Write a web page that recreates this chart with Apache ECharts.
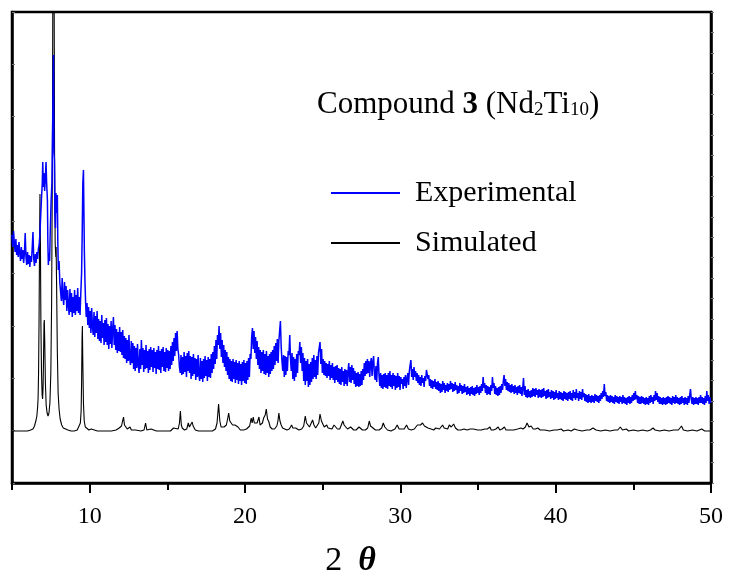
<!DOCTYPE html>
<html>
<head>
<meta charset="utf-8">
<script src="https://cdn.jsdelivr.net/npm/echarts@6/dist/echarts.min.js"></script>
<style>html,body{margin:0;padding:0;background:#fff}#c{width:732px;height:578px}</style>
</head>
<body>
<div id="c"></div>
<script>
// 2θ (degrees) and intensity (a.u.)
const experimental = [
[5.00,248],[5.05,236],[5.10,252],[5.15,240],[5.20,231],[5.25,244],[5.30,228],[5.35,238],[5.40,226],[5.45,241],[5.50,230],[5.55,222],[5.60,236],[5.65,224],[5.70,233],[5.75,220],[5.80,230],[5.85,250],[5.90,226],[5.95,218],[6.00,231],[6.05,219],[6.10,228],[6.15,216],[6.20,227],[6.25,221],[6.30,235],[6.35,251],[6.40,224],[6.45,217],[6.50,229],[6.55,220],[6.60,231],[6.65,224],[6.70,234],
[6.75,238],[6.80,250],[6.85,268],[6.90,285],[6.95,300],[6.98,321],[7.02,296],[7.06,310],[7.10,292],[7.15,305],[7.19,321],[7.23,300],[7.28,283],[7.31,240],[7.34,218],[7.38,230],[7.42,222],[7.46,250],[7.52,283],[7.57,300],[7.62,360],[7.67,428],[7.70,330],[7.73,323],[7.76,270],[7.80,255],[7.83,290],[7.87,270],[7.92,288],[7.95,240],[7.98,213],[8.03,222],[8.08,200],
[8.13,200],[8.18,182],[8.23,205],[8.28,186],[8.33,178],[8.38,201],[8.43,183],[8.48,197],[8.53,172],[8.58,193],[8.63,178],[8.68,168],[8.73,194],[8.78,171],[8.83,190],[8.88,166],[8.93,186],[8.98,170],[9.03,193],[9.08,168],[9.13,188],[9.18,172],[9.23,195],[9.28,170],[9.33,186],[9.38,168],[9.43,190],[9.48,210],[9.52,250],[9.56,300],[9.60,313],[9.63,270],[9.66,230],[9.70,200],[9.74,180],[9.78,166],
[9.83,180],[9.88,158],[9.93,176],[9.98,155],[10.03,172],[10.08,150],[10.13,175],[10.18,156],[10.23,148],[10.28,171],[10.33,146],[10.38,167],[10.43,150],[10.48,172],[10.53,144],[10.58,164],[10.63,142],[10.68,162],[10.73,140],[10.78,168],[10.83,145],[10.88,160],[10.93,138],[10.98,163],[11.03,141],[11.08,165],[11.13,138],[11.18,159],[11.23,134],[11.28,157],[11.33,139],[11.38,162],[11.43,135],[11.48,154],[11.53,166],[11.58,138],[11.63,158],[11.68,133],[11.73,154],[11.78,130],[11.83,151],[11.88,132],[11.93,156],[11.98,131],
[12.03,151],[12.08,128],[12.13,153],[12.18,125],[12.23,147],[12.28,124],[12.33,145],[12.38,120],[12.43,143],[12.48,122],[12.53,148],[12.58,124],[12.63,118],[12.68,142],[12.73,120],[12.78,140],[12.83,114],[12.88,137],[12.93,112],[12.98,135],[13.03,115],[13.08,139],[13.13,118],[13.18,110],[13.23,134],[13.28,114],[13.33,143],[13.38,118],[13.43,135],[13.48,111],[13.53,133],[13.58,114],[13.63,138],[13.68,115],[13.73,132],[13.78,110],[13.83,134],[13.88,113],[13.93,136],[13.98,116],[14.03,133],[14.08,111],[14.13,135],[14.18,115],[14.23,131],[14.28,109],[14.33,133],[14.38,114],[14.43,137],[14.48,113],[14.53,132],[14.58,110],[14.63,134],[14.68,116],[14.73,136],[14.78,112],[14.83,131],[14.88,111],[14.93,135],[14.98,115],[15.03,133],[15.08,112],[15.13,132],[15.18,114],[15.23,137],[15.28,118],[15.33,141],[15.38,122],[15.43,145],[15.48,127],[15.53,150],[15.58,132],[15.63,152],[15.68,134],[15.73,128],[15.78,116],[15.83,110],
[15.88,128],[15.93,108],[15.98,126],[16.03,109],[16.08,131],[16.13,111],[16.18,127],[16.23,106],[16.28,130],[16.33,112],[16.38,132],[16.43,110],[16.48,127],[16.53,104],[16.58,126],[16.63,107],[16.68,129],[16.73,109],[16.78,125],[16.83,103],[16.88,124],[16.93,106],[16.98,128],[17.03,108],[17.08,102],[17.13,125],[17.18,104],[17.23,122],[17.28,101],[17.33,124],[17.38,105],[17.43,127],[17.48,107],[17.53,123],[17.58,102],[17.63,126],[17.68,106],[17.73,124],[17.78,105],[17.83,129],[17.88,110],[17.93,131],[17.98,114],[18.03,137],[18.08,119],[18.13,143],[18.18,124],[18.23,148],[18.28,138],[18.33,157],[18.38,134],[18.43,150],[18.48,126],[18.53,143],[18.58,120],[18.63,138],[18.68,116],[18.73,133],[18.78,112],[18.83,131],[18.88,108],
[18.93,126],[18.98,104],[19.03,124],[19.08,102],[19.13,122],[19.18,101],[19.23,124],[19.28,104],[19.33,121],[19.38,100],[19.43,123],[19.48,103],[19.53,120],[19.58,99],[19.63,122],[19.68,102],[19.73,119],[19.78,98],[19.83,121],[19.88,102],[19.93,123],[19.98,100],[20.03,120],[20.08,99],[20.13,122],[20.18,103],[20.23,125],[20.28,106],[20.33,129],[20.38,124],[20.43,146],[20.48,155],[20.53,134],[20.58,152],[20.63,130],[20.68,146],[20.73,124],[20.78,142],[20.83,118],[20.88,136],[20.93,114],[20.98,133],[21.03,110],[21.08,131],[21.13,112],[21.18,133],[21.23,109],[21.28,129],[21.33,108],[21.38,132],[21.43,110],[21.48,127],[21.53,106],[21.58,129],[21.63,109],[21.68,131],[21.73,112],[21.78,133],[21.83,114],[21.88,137],[21.93,118],[21.98,140],[22.03,122],[22.08,144],[22.13,120],[22.18,142],[22.23,152],[22.28,162],[22.33,136],[22.38,122],[22.43,112],[22.48,128],[22.53,106],[22.58,127],[22.63,108],[22.68,126],[22.73,112],[22.78,132],[22.83,128],[22.88,148],[22.93,124],[22.98,112],[23.03,130],[23.08,104],[23.13,126],[23.18,102],[23.23,124],[23.28,106],[23.33,129],[23.38,110],[23.43,132],[23.48,128],[23.53,141],[23.58,120],[23.63,136],[23.68,112],[23.73,130],[23.78,102],[23.83,125],[23.88,98],[23.93,122],[23.98,102],[24.03,124],[24.08,96],[24.13,119],[24.18,98],[24.23,121],[24.28,101],[24.33,125],[24.38,104],[24.43,128],[24.48,106],[24.53,123],[24.58,104],[24.63,127],[24.68,108],[24.73,130],[24.78,128],[24.83,141],[24.88,119],[24.93,134],[24.98,110],
[25.03,124],[25.08,108],[25.13,122],[25.18,107],[25.23,120],[25.28,105],[25.33,119],[25.38,107],[25.43,122],[25.48,103],[25.53,118],[25.58,105],[25.63,120],[25.68,103],[25.73,116],[25.78,100],[25.83,117],[25.88,103],[25.93,118],[25.98,101],[26.03,115],[26.08,99],[26.13,114],[26.18,98],[26.23,116],[26.28,101],[26.33,112],[26.38,97],[26.43,114],[26.48,99],[26.53,113],[26.58,97],[26.63,111],[26.68,120],[26.73,101],[26.78,116],[26.83,100],[26.88,118],[26.93,103],[26.98,115],[27.03,99],[27.08,112],[27.13,96],[27.18,110],[27.23,97],[27.28,111],[27.33,96],[27.38,109],[27.43,97],[27.48,112],[27.53,98],[27.58,114],[27.63,103],[27.68,120],[27.73,107],[27.78,122],[27.83,109],[27.88,124],[27.93,110],[27.98,122],[28.03,106],[28.08,120],[28.13,125],[28.18,107],[28.23,121],[28.28,127],[28.33,109],[28.38,103],[28.43,117],[28.48,101],[28.53,120],[28.58,126],[28.63,107],[28.68,97],[28.73,110],[28.78,95],[28.83,108],[28.88,94],[28.93,109],[28.98,96],[29.03,110],[29.08,95],[29.13,108],[29.18,94],[29.23,110],[29.28,97],[29.33,112],[29.38,96],[29.43,108],[29.48,94],[29.53,110],[29.58,97],[29.63,108],[29.68,93],[29.73,107],[29.78,95],[29.83,110],[29.88,96],[29.93,107],[29.98,93],
[30.03,106],[30.08,99],[30.13,104],[30.18,94],[30.23,106],[30.28,97],[30.33,108],[30.38,95],[30.43,104],[30.48,110],[30.53,98],[30.58,112],[30.63,118],[30.68,123],[30.73,106],[30.78,114],[30.83,103],[30.88,116],[30.93,106],[30.98,112],[31.03,102],[31.08,110],[31.13,100],[31.18,108],[31.23,98],[31.28,106],[31.33,97],[31.38,108],[31.43,100],[31.48,105],[31.53,96],[31.58,107],[31.63,102],[31.68,113],[31.73,115],[31.78,104],[31.83,108],[31.88,97],[31.93,104],[31.98,95],[32.03,103],[32.08,94],[32.13,102],[32.18,96],[32.23,104],[32.28,94],[32.33,101],[32.38,93],[32.43,102],[32.48,92],[32.53,100],[32.58,90],[32.63,99],[32.68,91],[32.73,102],[32.78,93],[32.83,100],[32.88,90],[32.93,98],[32.98,92],[33.03,100],[33.08,91],[33.13,99],[33.18,93],[33.23,102],[33.28,94],[33.33,100],[33.38,91],[33.43,99],[33.48,92],[33.53,101],[33.58,93],[33.63,98],[33.68,89],[33.73,97],[33.78,90],[33.83,100],[33.88,92],[33.93,98],[33.98,89],[34.03,97],[34.08,90],[34.13,99],[34.18,91],[34.23,96],[34.28,88],[34.33,97],[34.38,89],[34.43,95],[34.48,87],[34.53,96],[34.58,89],[34.63,97],[34.68,88],[34.73,95],[34.78,87],[34.83,96],[34.88,89],[34.93,98],[34.98,90],
[35.03,96],[35.08,88],[35.13,97],[35.18,90],[35.23,99],[35.28,92],[35.33,106],[35.38,95],[35.43,100],[35.48,90],[35.53,98],[35.58,88],[35.63,97],[35.68,89],[35.73,96],[35.78,88],[35.83,98],[35.88,92],[35.93,106],[35.98,95],[36.03,100],[36.08,89],[36.13,97],[36.18,88],[36.23,95],[36.28,87],[36.33,96],[36.38,88],[36.43,97],[36.48,90],[36.53,99],[36.58,93],[36.63,102],[36.68,108],[36.73,97],[36.78,104],[36.83,93],[36.88,101],[36.93,92],[36.98,100],[37.03,91],[37.08,98],[37.13,90],[37.18,99],[37.23,91],[37.28,97],[37.33,89],[37.38,98],[37.43,90],[37.48,96],[37.53,88],[37.58,97],[37.63,90],[37.68,98],[37.73,89],[37.78,96],[37.83,87],[37.88,95],[37.93,105],[37.98,88],[38.03,97],[38.08,86],[38.13,93],[38.18,85],[38.23,94],[38.28,86],[38.33,92],[38.38,85],[38.43,93],[38.48,86],[38.53,95],[38.58,87],[38.63,94],[38.68,86],[38.73,95],[38.78,88],[38.83,93],[38.88,85],[38.93,94],[38.98,86],[39.03,93],[39.08,85],[39.13,94],[39.18,86],[39.23,95],[39.28,87],[39.33,92],[39.38,84],[39.43,93],[39.48,85],[39.53,94],[39.58,86],[39.63,91],[39.68,84],[39.73,93],[39.78,85],[39.83,92],[39.88,83],[39.93,91],[39.98,84],
[40.03,93],[40.08,85],[40.13,90],[40.18,83],[40.23,92],[40.28,84],[40.33,91],[40.38,83],[40.43,90],[40.48,82],[40.53,92],[40.58,84],[40.63,91],[40.68,83],[40.73,90],[40.78,82],[40.83,91],[40.88,84],[40.93,92],[40.98,83],[41.03,90],[41.08,82],[41.13,93],[41.18,85],[41.23,91],[41.28,83],[41.33,94],[41.38,85],[41.43,90],[41.48,82],[41.53,92],[41.58,84],[41.63,91],[41.68,83],[41.73,94],[41.78,86],[41.83,90],[41.88,82],[41.93,89],[41.98,81],[42.03,88],[42.08,80],[42.13,89],[42.18,81],[42.23,87],[42.28,80],[42.33,88],[42.38,81],[42.43,87],[42.48,80],[42.53,89],[42.58,82],[42.63,88],[42.68,81],[42.73,87],[42.78,80],[42.83,88],[42.88,82],[42.93,90],[42.98,84],[43.03,92],[43.08,86],[43.13,99],[43.18,87],[43.23,91],[43.28,82],[43.33,88],[43.38,81],[43.43,87],[43.48,80],[43.53,88],[43.58,81],[43.63,87],[43.68,80],[43.73,86],[43.78,79],[43.83,88],[43.88,81],[43.93,87],[43.98,80],[44.03,86],[44.08,79],[44.13,87],[44.18,81],[44.23,86],[44.28,79],[44.33,88],[44.38,80],[44.43,86],[44.48,79],[44.53,85],[44.58,78],[44.63,86],[44.68,80],[44.73,87],[44.78,79],[44.83,86],[44.88,80],[44.93,88],[44.98,82],
[45.03,90],[45.08,83],[45.13,92],[45.18,84],[45.23,88],[45.28,80],[45.33,87],[45.38,79],[45.43,86],[45.48,79],[45.53,87],[45.58,80],[45.63,86],[45.68,79],[45.73,85],[45.78,78],[45.83,86],[45.88,79],[45.93,85],[45.98,78],[46.03,87],[46.08,80],[46.13,88],[46.18,81],[46.23,86],[46.28,79],[46.33,88],[46.38,82],[46.43,92],[46.48,83],[46.53,90],[46.58,81],[46.63,87],[46.68,79],[46.73,86],[46.78,79],[46.83,85],[46.88,78],[46.93,86],[46.98,79],[47.03,85],[47.08,78],[47.13,86],[47.18,79],[47.23,87],[47.28,80],[47.33,86],[47.38,79],[47.43,85],[47.48,78],[47.53,87],[47.58,80],[47.63,86],[47.68,79],[47.73,88],[47.78,80],[47.83,86],[47.88,79],[47.93,85],[47.98,78],[48.03,86],[48.08,79],[48.13,87],[48.18,80],[48.23,85],[48.28,78],[48.33,86],[48.38,79],[48.43,85],[48.48,78],[48.53,87],[48.58,80],[48.63,88],[48.68,94],[48.73,84],[48.78,79],[48.83,86],[48.88,78],[48.93,85],[48.98,79],[49.03,86],[49.08,79],[49.13,85],[49.18,78],[49.23,86],[49.28,80],[49.33,88],[49.38,80],[49.43,86],[49.48,79],[49.53,85],[49.58,78],[49.63,87],[49.68,80],[49.73,92],[49.78,82],[49.83,88],[49.88,79],[49.93,86],[49.98,80]
];

const simulated = [
[5.00,52],[5.50,52],[6.00,52],[6.20,53],[6.35,54],[6.45,57],[6.55,63],[6.60,67],[6.65,76],[6.68,85],[6.71,110],[6.74,160],[6.77,230],[6.80,289],[6.83,240],[6.86,160],[6.90,110],[6.94,88],[6.97,84],[7.00,95],[7.03,125],[7.06,160],[7.08,163],[7.11,140],[7.15,100],[7.20,78],[7.26,70],[7.32,67],[7.38,70],[7.44,80],[7.50,110],[7.55,180],[7.60,320],[7.64,560],[7.67,720],[7.70,560],[7.74,330],[7.78,240],[7.82,226],[7.84,236],[7.87,200],[7.92,130],[7.97,90],[8.03,74],[8.10,64],[8.20,58],[8.30,55],[8.42,54],[8.60,53],[8.80,52],[9.00,52],[9.20,53],[9.32,55],[9.40,60],[9.45,72],[9.48,100],[9.51,145],[9.53,157],[9.56,120],[9.60,80],[9.65,62],[9.72,56],[9.82,54],[9.95,53],[10.10,54],[10.20,52],[10.50,52],[11.00,52],[11.40,52],[11.70,53],[11.90,55],[11.97,56],[12.05,57],[12.12,62],[12.18,66],[12.24,58],[12.30,57],[12.35,60],[12.42,54],[12.52,55],[12.60,56],[12.68,53],[12.80,52],[12.95,53],[13.00,55],[13.06,52],[13.30,52],[13.50,53],[13.60,60],[13.68,53],[13.80,52],[13.95,54],[14.00,56],[14.07,53],[14.30,52],[14.80,52],[15.20,52],[15.40,55],[15.50,53],[15.70,54],[15.78,60],[15.84,72],[15.90,58],[15.96,55],[16.02,56],[16.10,53],[16.25,54],[16.35,60],[16.42,56],[16.52,58],[16.60,61],[16.66,57],[16.72,58],[16.80,53],[17.00,52],[17.50,52],[17.90,52],[18.10,54],[18.20,60],[18.30,79],[18.38,62],[18.46,56],[18.55,58],[18.65,56],[18.80,58],[18.88,64],[18.95,70],[19.02,62],[19.10,63],[19.20,58],[19.35,58],[19.45,60],[19.55,56],[19.70,53],[19.90,53],[20.10,54],[20.20,56],[20.30,57],[20.40,65],[20.46,60],[20.53,66],[20.60,60],[20.68,58],[20.78,60],[20.90,66],[20.97,58],[21.04,56],[21.12,60],[21.20,65],[21.30,68],[21.37,74],[21.45,64],[21.54,61],[21.62,56],[21.75,54],[21.90,54],[22.05,57],[22.12,62],[22.18,70],[22.25,62],[22.33,58],[22.42,55],[22.50,53],[22.70,53],[22.85,54],[22.95,56],[23.00,58],[23.08,55],[23.18,54],[23.26,55],[23.35,53],[23.47,53],[23.65,54],[23.78,57],[23.88,67],[23.96,60],[24.05,58],[24.15,56],[24.27,58],[24.35,63],[24.44,58],[24.55,55],[24.65,56],[24.75,60],[24.83,69],[24.92,62],[25.00,60],[25.10,56],[25.20,57],[25.26,58],[25.35,55],[25.47,53],[25.60,54],[25.73,58],[25.82,56],[25.95,54],[26.10,54],[26.22,56],[26.30,62],[26.38,58],[26.48,56],[26.60,54],[26.72,55],[26.80,56],[26.90,54],[27.00,53],[27.15,53],[27.26,54],[27.34,56],[27.45,54],[27.56,53],[27.75,53],[27.90,55],[28.00,62],[28.08,57],[28.20,55],[28.40,53],[28.63,53],[28.80,55],[28.90,60],[29.00,56],[29.17,53],[29.40,52],[29.65,54],[29.80,58],[29.92,54],[30.03,53],[30.25,54],[30.40,58],[30.52,54],[30.70,53],[30.90,54],[31.02,56],[31.10,58],[31.20,56],[31.30,58],[31.43,60],[31.55,57],[31.65,58],[31.78,55],[31.97,54],[32.15,53],[32.28,55],[32.40,56],[32.52,54],[32.62,55],[32.72,58],[32.82,55],[32.94,53],[33.05,54],[33.15,58],[33.28,56],[33.43,59],[33.55,55],[33.70,53],[33.90,53],[34.10,54],[34.30,53],[34.50,54],[34.60,56],[34.70,54],[34.98,53],[35.20,53],[35.45,54],[35.60,54],[35.70,56],[35.77,56],[35.85,53],[36.00,53],[36.15,54],[36.30,56],[36.40,53],[36.55,54],[36.70,56],[36.80,53],[37.00,53],[37.30,53],[37.55,54],[37.77,55],[37.90,54],[38.05,56],[38.16,60],[38.28,56],[38.42,57],[38.55,54],[38.70,54],[38.85,55],[39.00,53],[39.30,53],[39.60,52],[39.90,53],[40.10,53],[40.35,54],[40.50,52],[40.80,53],[41.00,52],[41.20,54],[41.40,53],[41.70,52],[42.00,53],[42.20,53],[42.40,55],[42.60,53],[42.90,52],[43.20,53],[43.50,52],[43.80,53],[44.00,53],[44.16,56],[44.30,53],[44.55,54],[44.70,52],[45.00,53],[45.30,52],[45.60,53],[45.90,52],[46.10,53],[46.27,55],[46.40,53],[46.70,52],[47.00,53],[47.30,52],[47.60,53],[47.90,53],[48.00,54],[48.10,57],[48.22,53],[48.50,52],[48.80,53],[49.10,52],[49.40,54],[49.60,52],[50.00,52]
];

const seriesNames = ['Experimental', 'Simulated'];
const xTickLabels = [10, 20, 30, 40, 50];
const xMinorTicks = [5, 15, 25, 35, 45];

const serif = 'Liberation Serif';
const chart = echarts.init(document.getElementById('c'), null, {renderer: 'canvas'});
const option = {
  animation: false,
  backgroundColor: '#ffffff',
  title: {
    text: '{a|Compound }{b|3}{a| (Nd}{s|2}{a|Ti}{s|10}{a|)}',
    left: 317, top: 86, padding: 0,
    textStyle: {
      fontWeight: 'normal', fontFamily: serif,
      rich: {
        a: {fontFamily: serif, fontSize: 31, fontWeight: 'normal', color: '#000', lineHeight: 34, verticalAlign: 'bottom'},
        b: {fontFamily: serif, fontSize: 31, fontWeight: 'bold', color: '#000', lineHeight: 34, verticalAlign: 'bottom'},
        s: {fontFamily: serif, fontSize: 19, fontWeight: 'normal', color: '#000', lineHeight: 26, verticalAlign: 'bottom'}
      }
    }
  },
  legend: {
    orient: 'vertical', left: 331, top: 178, padding: 0,
    icon: 'rect', itemWidth: 69, itemHeight: 2, itemGap: 20,
    data: seriesNames,
    textStyle: {fontFamily: serif, fontSize: 30, color: '#000', padding: [0, 0, 0, 10]}
  },
  grid: {left: 12, right: 21, top: 12, bottom: 95, show: true, borderColor: '#000', borderWidth: 2.5, containLabel: false, outerBoundsMode: 'none'},
  xAxis: [
    {
      type: 'value', min: 5, max: 50, interval: 5, position: 'bottom',
      axisLine: {show: true, onZero: false, lineStyle: {color: '#000', width: 2.5}},
      axisTick: {show: true, length: 10, customValues: xTickLabels, lineStyle: {color: '#000', width: 2}},
      axisLabel: {show: true, customValues: xTickLabels, margin: 22, color: '#000', fontFamily: serif, fontSize: 24},
      splitLine: {show: false},
      name: '{a|2}{b|θ}', nameLocation: 'middle', nameGap: 61,
      nameTextStyle: {
        padding: [0, 22, 0, 0],
        rich: {
          a: {fontFamily: serif, fontSize: 34, color: '#000'},
          b: {fontFamily: serif, fontSize: 34, fontWeight: 'bold', fontStyle: 'italic', color: '#000', padding: [0, 0, 0, 16]}
        }
      }
    },
    {
      type: 'value', min: 5, max: 50, interval: 5, position: 'bottom',
      axisLine: {show: false, onZero: false},
      axisTick: {show: true, length: 7, customValues: xMinorTicks, lineStyle: {color: '#000', width: 2}},
      axisLabel: {show: false}, splitLine: {show: false}
    }
  ],
  yAxis: [
    {
      type: 'value', min: 0, max: 471, interval: 471 / 9, position: 'left',
      axisLine: {show: true, onZero: false, lineStyle: {color: '#000', width: 2.5}},
      axisTick: {show: true, inside: true, length: 3, lineStyle: {color: '#777', width: 1}},
      axisLabel: {show: false}, splitLine: {show: false}
    },
    {
      type: 'value', min: 0, max: 23, interval: 1, position: 'right',
      axisLine: {show: true, onZero: false, lineStyle: {color: '#000', width: 2.5}},
      axisTick: {show: true, inside: false, length: 3, lineStyle: {color: '#777', width: 1}},
      axisLabel: {show: false}, splitLine: {show: false}
    }
  ],
  series: [
    {
      name: 'Simulated', type: 'line', data: simulated, xAxisIndex: 0, yAxisIndex: 0,
      symbol: 'none', clip: true, lineStyle: {color: '#000', width: 1.1}, itemStyle: {color: '#000'}, z: 2
    },
    {
      name: 'Experimental', type: 'line', data: experimental, xAxisIndex: 0, yAxisIndex: 0,
      symbol: 'none', clip: true, lineStyle: {color: '#0000ff', width: 1.5}, itemStyle: {color: '#0000ff'}, z: 3
    }
  ]
};
chart.setOption(option);
</script>
</body>
</html>
